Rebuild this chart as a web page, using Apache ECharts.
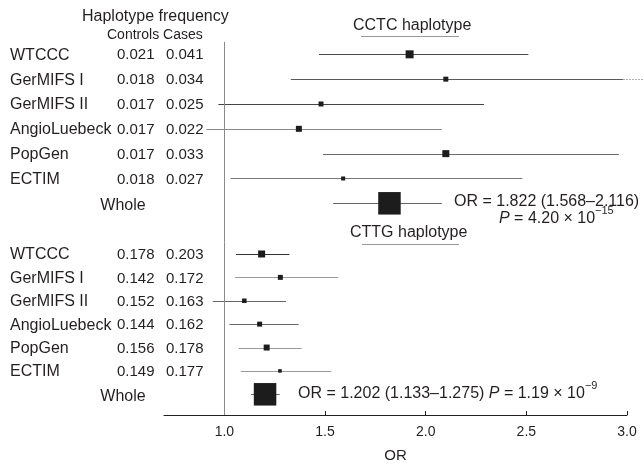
<!DOCTYPE html>
<html>
<head>
<meta charset="utf-8">
<script src="https://cdn.jsdelivr.net/npm/echarts@6/dist/echarts.min.js"></script>
<style>
html,body{margin:0;padding:0;background:#fff;}
#chart{width:644px;height:465px;}
</style>
</head>
<body>
<div id="chart"></div>
<script>
// studies (same order in both haplotype blocks)
var studies = ['WTCCC', 'GerMIFS I', 'GerMIFS II', 'AngioLuebeck', 'PopGen', 'ECTIM'];

// CCTC haplotype
var cctcControls = ['0.021', '0.018', '0.017', '0.017', '0.017', '0.018'];
var cctcCases    = ['0.041', '0.034', '0.025', '0.022', '0.033', '0.027'];
var cctcOR   = [1.92, 2.10, 1.48, 1.37, 2.10, 1.59, 1.82];   // last = Whole
var cctcLow  = [1.47, 1.33, 0.97, 0.91, 1.49, 1.03, 1.54];
var cctcHigh = [2.51, 3.08, 2.29, 2.08, 2.96, 2.48, 2.08];
var cctcWeight = [12.6, 4.9, 4.9, 7.1, 9.7, 3.2, 100];

// CTTG haplotype
var cttgControls = ['0.178', '0.142', '0.152', '0.144', '0.156', '0.149'];
var cttgCases    = ['0.203', '0.172', '0.163', '0.162', '0.178', '0.177'];
var cttgOR   = [1.185, 1.278, 1.099, 1.175, 1.21, 1.276, 1.202];
var cttgLow  = [1.058, 1.053, 0.942, 1.025, 1.07, 1.081, 1.133];
var cttgHigh = [1.323, 1.566, 1.306, 1.369, 1.384, 1.531, 1.275];
var cttgWeight = [9.7, 4.9, 4.0, 4.9, 7.1, 2.5, 100];

var xTicks = [1.0, 1.5, 2.0, 2.5, 3.0];

// styles
var FONT = "'Liberation Sans', Arial, sans-serif";
var INK = '#231f20';
var AXIS_MIN = 0.7, AXIS_MAX = 3.0;
var cctcLineColor = ['#4a4a4a', '#5a5a5a', '#444', '#8a8a8a', '#6a6a6a', '#777', '#666'];
var cttgLineColor = ['#333', '#9a9a9a', '#666', '#666', '#999', '#999', '#666'];

function txt(s, x, y, align, size) {
  return {
    type: 'text',
    style: {
      text: s, x: x, y: y, align: align || 'left', verticalAlign: 'middle',
      fill: INK, font: (size || 16) + 'px ' + FONT
    }
  };
}

function makeRender(controls, cases, colors) {
  return function (params, api) {
    var i = params.dataIndex;
    var y = api.value(0), or = api.value(1), lo = api.value(2), hi = api.value(3), w = api.value(4);
    var c = api.coord([or, y]);
    var ly = Math.round(c[1]) + 0.5;
    var x1 = api.coord([lo, y])[0];
    var solidEnd = hi > AXIS_MAX ? AXIS_MAX - 0.02 : hi;
    var x2 = api.coord([solidEnd, y])[0];
    var s = 22.5 * Math.sqrt(w / 100);
    var kids = [];
    kids.push({type: 'line', shape: {x1: x1, y1: ly, x2: x2, y2: ly}, style: {stroke: colors[i], lineWidth: 1}});
    if (hi > AXIS_MAX) {
      kids.push({type: 'line', shape: {x1: x2, y1: ly, x2: api.coord([hi, y])[0], y2: ly},
        style: {stroke: '#b0b0b0', lineWidth: 1, lineDash: [2, 1]}});
    }
    kids.push({type: 'rect', shape: {x: c[0] - s / 2, y: c[1] - s / 2, width: s, height: s}, style: {fill: '#1c1c1c'}});
    // left table
    if (i >= studies.length) {
      kids.push(txt('Whole', 123, c[1] + 2, 'center', 16));
    } else {
      kids.push(txt(studies[i], 10, c[1] + 1, 'left', 16));
      kids.push(txt(controls[i], 117, c[1] + 1, 'left', 15));
      kids.push(txt(cases[i], 166, c[1] + 1, 'left', 15));
    }
    return {type: 'group', children: kids};
  };
}

function rows(or, lo, hi, wt) {
  var out = [];
  for (var i = 0; i < or.length; i++) out.push([i, or[i], lo[i], hi[i], wt[i]]);
  return out;
}

var refLine = {
  silent: true, symbol: ['none', 'none'], label: {show: false},
  lineStyle: {color: '#8a8a8a', type: 'solid', width: 1},
  data: [{xAxis: 1}]
};

var chart = echarts.init(document.getElementById('chart'), null, {renderer: 'canvas'});

var option = {
  animation: false,
  textStyle: {fontFamily: FONT},
  grid: [
    {left: 164, right: 17, top: 41.9, height: 200.4},
    {left: 164, right: 17, top: 242.3, height: 172.7}
  ],
  xAxis: [
    {gridIndex: 0, type: 'value', min: AXIS_MIN, max: AXIS_MAX, show: false},
    {
      gridIndex: 1, type: 'value', min: AXIS_MIN, max: AXIS_MAX,
      splitLine: {show: false},
      axisLine: {show: true, onZero: false, lineStyle: {color: INK, width: 1}},
      axisTick: {show: true, inside: true, length: 4, customValues: xTicks, lineStyle: {color: INK}},
      axisLabel: {
        customValues: xTicks, color: INK, fontSize: 14, margin: 10,
        formatter: function (v) { return v.toFixed(1); }
      },
      name: 'OR', nameLocation: 'middle', nameGap: 33,
      nameTextStyle: {color: INK, fontSize: 15}
    }
  ],
  yAxis: [
    {gridIndex: 0, type: 'value', inverse: true, min: -0.5, max: 7.57, show: false},
    {gridIndex: 1, type: 'value', inverse: true, min: -0.5, max: 6.885, show: false}
  ],
  series: [
    {
      type: 'custom', xAxisIndex: 0, yAxisIndex: 0, clip: false,
      renderItem: makeRender(cctcControls, cctcCases, cctcLineColor),
      encode: {x: [1, 2, 3], y: 0},
      data: rows(cctcOR, cctcLow, cctcHigh, cctcWeight),
      markLine: refLine
    },
    {
      type: 'custom', xAxisIndex: 1, yAxisIndex: 1, clip: false,
      renderItem: makeRender(cttgControls, cttgCases, cttgLineColor),
      encode: {x: [1, 2, 3], y: 0},
      data: rows(cttgOR, cttgLow, cttgHigh, cttgWeight),
      markLine: refLine
    }
  ],
  graphic: [
    {type: 'text', left: 82, top: 9, style: {text: 'Haplotype frequency', font: '16px ' + FONT, fill: INK}},
    {type: 'text', left: 107, top: 28, style: {text: 'Controls Cases', font: '14px ' + FONT, fill: INK}},
    {type: 'text', left: 353, top: 18, style: {text: 'CCTC haplotype', font: '16px ' + FONT, fill: INK}},
    {type: 'line', shape: {x1: 361, y1: 36.5, x2: 459, y2: 36.5}, style: {stroke: '#999', lineWidth: 1}},
    {type: 'text', left: 350, top: 225, style: {text: 'CTTG haplotype', font: '16px ' + FONT, fill: INK}},
    {type: 'line', shape: {x1: 362, y1: 244.5, x2: 459, y2: 244.5}, style: {stroke: '#999', lineWidth: 1}},
    {type: 'text', left: 454, top: 194, style: {text: 'OR = 1.822 (1.568–2.116)', font: '16px ' + FONT, fill: INK}},
    {
      type: 'text', left: 499, top: 205,
      style: {
        text: '{i|P}{n| = 4.20 × 10}{s|−15}', fill: INK,
        rich: {
          i: {fontFamily: FONT, fontSize: 16, fontStyle: 'italic', lineHeight: 22, verticalAlign: 'bottom', color: INK},
          n: {fontFamily: FONT, fontSize: 16, lineHeight: 22, verticalAlign: 'bottom', color: INK},
          s: {fontFamily: FONT, fontSize: 11, lineHeight: 22, verticalAlign: 'top', color: INK}
        }
      }
    },
    {
      type: 'text', left: 298, top: 380,
      style: {
        text: '{n|OR = 1.202 (1.133–1.275) }{i|P}{n| = 1.19 × 10}{s|−9}', fill: INK,
        rich: {
          i: {fontFamily: FONT, fontSize: 16, fontStyle: 'italic', lineHeight: 22, verticalAlign: 'bottom', color: INK},
          n: {fontFamily: FONT, fontSize: 16, lineHeight: 22, verticalAlign: 'bottom', color: INK},
          s: {fontFamily: FONT, fontSize: 11, lineHeight: 22, verticalAlign: 'top', color: INK}
        }
      }
    }
  ]
};

chart.setOption(option);
</script>
</body>
</html>
